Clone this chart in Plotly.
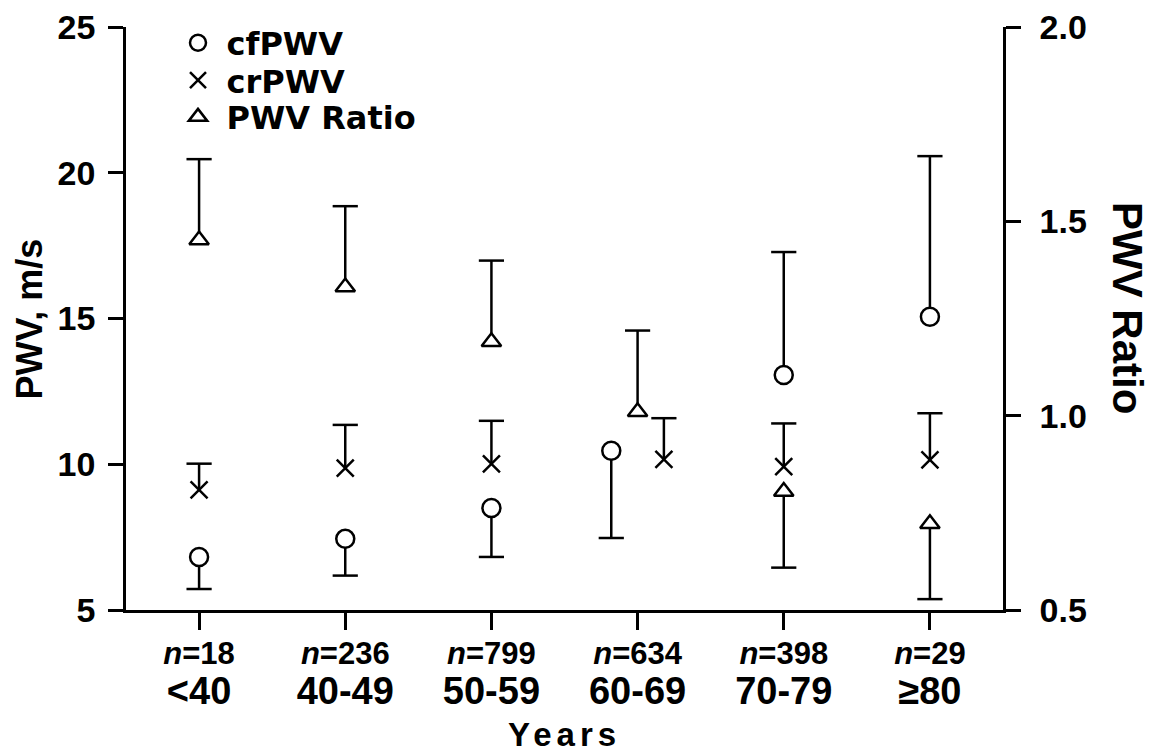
import plotly.graph_objects as go
import html

# ---------------- data ----------------
categories = ["<40", "40-49", "50-59", "60-69", "70-79", "≥80"]
n_values = [18, 236, 799, 634, 398, 29]

cf_pwv = [6.82, 7.44, 8.50, 10.46, 13.06, 15.06]
cf_sd = [1.10, 1.26, 1.68, 2.99, 4.22, 5.51]
cf_dir = [-1, -1, -1, -1, 1, 1]

cr_pwv = [9.12, 9.87, 10.01, 10.17, 9.92, 10.15]
cr_sd = [0.90, 1.48, 1.48, 1.41, 1.48, 1.60]
cr_dir = [1, 1, 1, 1, 1, 1]

pwv_ratio = [1.452, 1.331, 1.190, 1.010, 0.805, 0.722]
ratio_sd = [0.208, 0.208, 0.209, 0.209, 0.196, 0.194]
ratio_dir = [1, 1, 1, 1, -1, -1]

# horizontal dodge (category units) used where series overlap
cf_dodge = [0, 0, 0, -0.18, 0, 0]
cr_dodge = [0, 0, 0, 0.18, 0, 0]
ratio_dodge = [0, 0, 0, 0, 0, 0]

FONT = "Liberation Sans, Arial, Helvetica, sans-serif"
LEG_FONT = "DejaVu Sans, Liberation Sans, Arial, sans-serif"
BLACK = "#000000"
LW = 2.5

fig = go.Figure()


def add_series(name, vals, sd, direction, dodge, symbol, size, yaxis, legend, fill):
    xs = [i + d for i, d in enumerate(dodge)]
    ends = [v + s * dr for v, s, dr in zip(vals, sd, direction)]
    sx, sy = [], []
    for x, v, e in zip(xs, vals, ends):
        sx += [x, x, None]
        sy += [v, e, None]
    # stems
    fig.add_trace(go.Scatter(x=sx, y=sy, mode="lines", yaxis=yaxis,
                             line=dict(color=BLACK, width=LW),
                             showlegend=False, hoverinfo="skip", cliponaxis=False))
    # caps
    fig.add_trace(go.Scatter(x=xs, y=ends, mode="markers", yaxis=yaxis,
                             marker=dict(symbol="line-ew", size=18,
                                         line=dict(color=BLACK, width=LW)),
                             showlegend=False, hoverinfo="skip", cliponaxis=False))
    # points
    fig.add_trace(go.Scatter(x=xs, y=vals, mode="markers", yaxis=yaxis, name=name,
                             legend=legend,
                             marker=dict(symbol=symbol, size=size, color=fill,
                                         line=dict(color=BLACK, width=LW)),
                             cliponaxis=False))


add_series("cfPWV", cf_pwv, cf_sd, cf_dir, cf_dodge, "circle", 18, "y", "legend", "white")
add_series("crPWV", cr_pwv, cr_sd, cr_dir, cr_dodge, "x-thin", 17, "y", "legend2", BLACK)
add_series("PWV Ratio", pwv_ratio, ratio_sd, ratio_dir, ratio_dodge, "triangle-up", 17, "y2", "legend3", "white")

ticktext = [f"<i>n</i>={n}<br><span style='font-size:38px'>{html.escape(c)}</span>"
            for n, c in zip(n_values, categories)]

axis_common = dict(showline=True, linecolor=BLACK, linewidth=LW, ticks="outside",
                   tickcolor=BLACK, tickwidth=LW, showgrid=False, zeroline=False,
                   automargin=False, ticklabeloverflow="allow")

leg_common = dict(xanchor="left", yanchor="middle", bgcolor="rgba(0,0,0,0)",
                  borderwidth=0, font=dict(family=LEG_FONT, size=32, color=BLACK, weight="bold"),
                  itemsizing="trace", itemwidth=47)

# page body has an 8px default margin, so the figure is 8px smaller than the window
fig.update_layout(
    template="none",
    width=1145, height=747,
    margin=dict(l=118, r=150, t=19, b=145, autoexpand=False),
    paper_bgcolor="white", plot_bgcolor="white",
    font=dict(family=FONT, color=BLACK),
    xaxis=dict(range=[-0.5, 5.5], tickvals=list(range(len(categories))), ticktext=ticktext,
               ticklen=17, tickfont=dict(family=FONT, size=31, color=BLACK, weight="bold"),
               ticklabelstandoff=-3, **axis_common),
    yaxis=dict(range=[5, 25], tickvals=[5, 10, 15, 20, 25], ticklen=15,
               tickfont=dict(family=FONT, size=34, color=BLACK, weight="bold"),
               ticklabelstandoff=6, **axis_common),
    yaxis2=dict(range=[0.5, 2.0], tickvals=[0.5, 1.0, 1.5, 2.0], tickformat=".1f",
                overlaying="y", side="right", ticklen=15,
                tickfont=dict(family=FONT, size=34, color=BLACK, weight="bold"),
                ticklabelstandoff=12, **axis_common),
    legend=dict(x=0.0496, y=0.9725, **leg_common),
    legend2=dict(x=0.0496, y=0.9087, **leg_common),
    legend3=dict(x=0.0496, y=0.8455, **leg_common),
    annotations=[
        dict(text="PWV, m/s", xref="paper", yref="paper", x=-0.1095, y=0.5,
             textangle=-90, showarrow=False, xanchor="center", yanchor="middle",
             font=dict(family=FONT, size=36, color=BLACK, weight="bold")),
        dict(text="PWV Ratio", xref="paper", yref="paper", x=1.1425, y=0.518,
             textangle=90, showarrow=False, xanchor="center", yanchor="middle",
             font=dict(family=FONT, size=42, color=BLACK, weight="bold")),
        dict(text="<span style='letter-spacing:5px'>Years</span>", xref="paper", yref="paper",
             x=0.5, y=-0.2144, showarrow=False, xanchor="center", yanchor="middle",
             font=dict(family=FONT, size=33, color=BLACK, weight="bold")),
    ],
)

fig.write_html("out.html")
